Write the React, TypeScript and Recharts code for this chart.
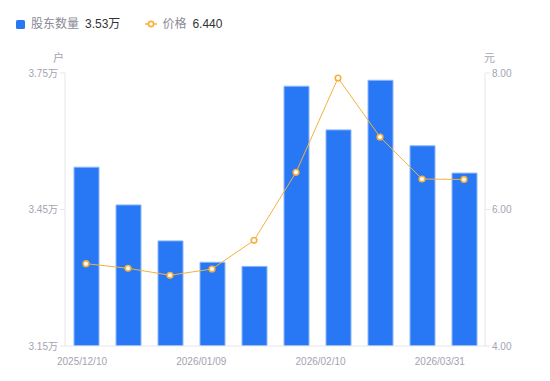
import React from 'react';
import { ComposedChart, Bar, Line, XAxis, YAxis } from 'recharts';

const dates = ['2025/12/10', '2025/12/20', '2025/12/31', '2026/01/09', '2026/01/20', '2026/01/30', '2026/02/10', '2026/02/28', '2026/03/10', '2026/03/31'];
const holders = [3.543, 3.46, 3.381, 3.334, 3.325, 3.721, 3.625, 3.734, 3.59, 3.53];
const prices = [5.206, 5.139, 5.036, 5.128, 5.548, 6.544, 7.927, 7.062, 6.447, 6.44];
const leftTicks = [3.15, 3.45, 3.75];
const rightTicks = [4, 6, 8];
const shownDateIdx = [0, 3, 6, 9];

const data = dates.map((d, i) => ({ date: d, holders: holders[i], price: prices[i] }));

const BLUE = '#2878f5';
const ORANGE = '#f7b03c';
const GREY = '#a3a3b0';
const FONT = '"Liberation Sans", "Noto Sans CJK SC", sans-serif';

const XTick = (props: any) => {
  const { x, y, payload } = props;
  const idx = payload.index;
  if (!shownDateIdx.includes(idx)) return null;
  const shift = -4 - idx * 2.24;
  return (
    <text x={x + shift} y={y + 11} textAnchor="middle" fill={GREY} fontSize={10} fontFamily={FONT}>
      {payload.value}
    </text>
  );
};

const Dot = (props: any) => {
  const { cx, cy } = props;
  return <circle cx={cx} cy={cy} r={2.8} fill="#fff" stroke={ORANGE} strokeWidth={1.6} />;
};

export default function App() {
  return (
    <div style={{ position: 'absolute', left: 0, top: 0, width: 550, height: 381, background: '#fff', fontFamily: FONT }}>
      <div style={{ position: 'absolute', left: 16, top: 16, display: 'flex', alignItems: 'center', fontSize: 12, lineHeight: '16px' }}>
        <span style={{ display: 'inline-block', width: 9, height: 9, background: BLUE, borderRadius: 1.5, marginRight: 6 }} />
        <span style={{ color: '#8a8a96' }}>股东数量</span>
        <span style={{ color: '#333', marginLeft: 6 }}>3.53万</span>
        <svg width={12} height={8} style={{ marginLeft: 25, marginRight: 5 }}>
          <line x1={0} y1={4} x2={12} y2={4} stroke={ORANGE} strokeWidth={1.5} />
          <circle cx={6} cy={4} r={2.6} fill="#fff" stroke={ORANGE} strokeWidth={1.6} />
        </svg>
        <span style={{ color: '#8a8a96' }}>价格</span>
        <span style={{ color: '#333', marginLeft: 6 }}>6.440</span>
      </div>
      <div style={{ position: 'absolute', left: 53, top: 49, fontSize: 11, color: GREY }}>户</div>
      <div style={{ position: 'absolute', left: 484, top: 49, fontSize: 11, color: GREY }}>元</div>
      <ComposedChart width={550} height={381} data={data} margin={{ top: 73, right: 0, left: 0, bottom: 0 }}>
        <XAxis
          dataKey="date"
          height={35}
          interval={0}
          tickLine={false}
          axisLine={{ stroke: '#e6e6eb' }}
          tick={<XTick />}
        />
        <YAxis
          yAxisId="left"
          orientation="left"
          width={65}
          domain={[3.15, 3.75]}
          ticks={leftTicks}
          tickFormatter={(v: number) => `${v.toFixed(2)}万`}
          axisLine={{ stroke: '#e6e6eb' }}
          tickLine={{ stroke: '#e6e6eb' }}
          tickSize={5}
          tick={{ fill: GREY, fontSize: 10, fontFamily: FONT }}
          allowDataOverflow
        />
        <YAxis
          yAxisId="right"
          orientation="right"
          width={65}
          domain={[4, 8]}
          ticks={rightTicks}
          tickFormatter={(v: number) => v.toFixed(2)}
          axisLine={{ stroke: '#e6e6eb' }}
          tickLine={{ stroke: '#e6e6eb' }}
          tickSize={5}
          tick={{ fill: GREY, fontSize: 10, fontFamily: FONT }}
        />
        <Bar yAxisId="left" dataKey="holders" fill={BLUE} stroke="#8db6fa" strokeWidth={1} barSize={25} isAnimationActive={false} />
        <Line yAxisId="right" dataKey="price" stroke={ORANGE} strokeWidth={1} dot={<Dot />} activeDot={false} isAnimationActive={false} />
      </ComposedChart>
    </div>
  );
}
